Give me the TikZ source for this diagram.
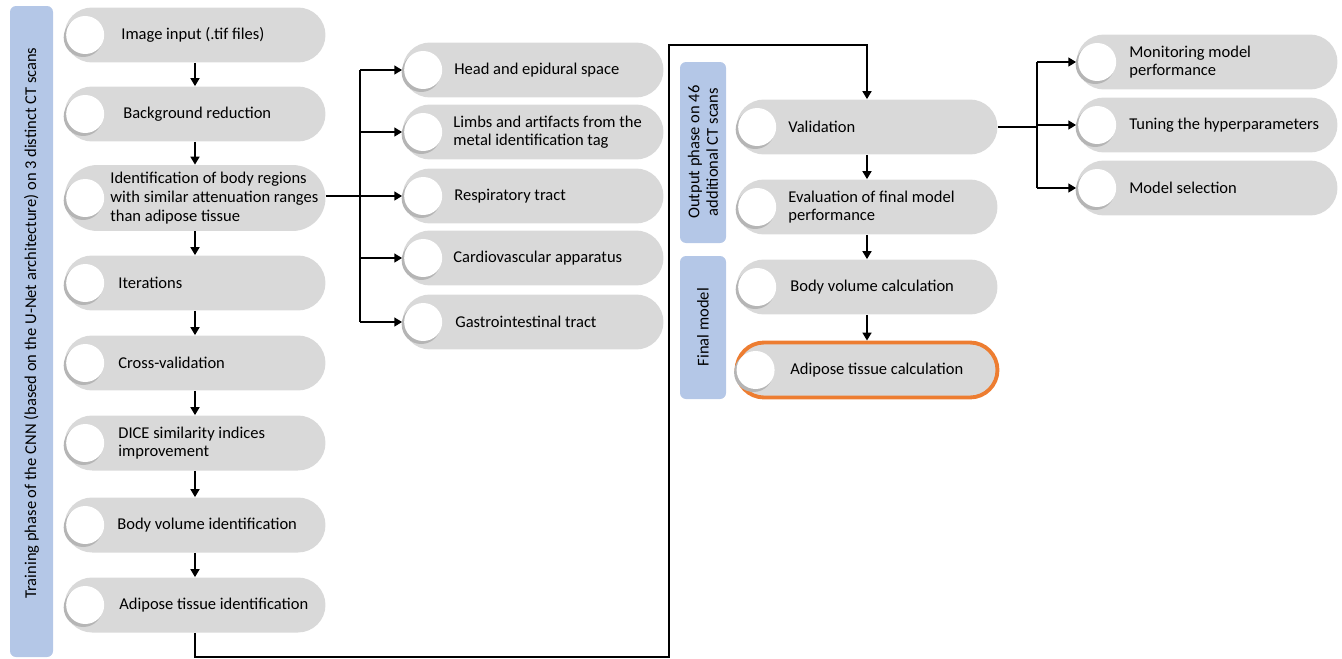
\documentclass[tikz,border=0pt]{standalone}
\usepackage{fontspec}
\setmainfont{Carlito}
\usetikzlibrary{shapes.misc,arrows.meta}
\definecolor{CTGray}{HTML}{D9D9D9}
\definecolor{CTShade}{HTML}{B5B5B5}
\definecolor{CTBlue}{HTML}{B4C7E7}
\definecolor{CTOrange}{HTML}{ED7D31}

\begin{document}
\begin{tikzpicture}[x=0.02cm,y=-0.02cm,
  pill/.style={rounded rectangle,fill=CTGray,minimum width=5.22cm,minimum height=1.1cm,inner sep=0pt},
  tall/.style={minimum height=1.32cm},
  txt/.style={anchor=west,align=left,inner sep=0pt,font=\fontsize{9.4}{10.6}\selectfont},
  bar/.style={fill=CTBlue,rounded corners=0.12cm},
  bartxt/.style={rotate=90,align=center,font=\fontsize{9.4}{10.6}\selectfont},
  arr/.style={line width=1.4pt,-{Triangle[length=4.5pt,width=5pt]}},
  ln/.style={line width=1.4pt}]
\path[use as bounding box] (0,0) rectangle (1342,659);
% phase bars
\fill[bar] (10,6) rectangle (53,657);
\node[bartxt] (trainlbl) at (31.5,323) {Training phase of the CNN (based on the U-Net architecture) on 3 distinct CT scans};
\fill[bar] (680,62) rectangle (726,243);
\node[bartxt] (outlbl) at (703,152) {Output phase on 46\\additional CT scans};
\fill[bar] (680,256) rectangle (726,399);
\node[bartxt] (finlbl) at (703,327) {Final model};
% training column
\node[pill] (imgin) at (195,35) {};
\node[txt] (imgin-t) at (121,35) {Image input (.tif files)};
\node[pill] (bgred) at (195,114) {};
\node[txt] (bgred-t) at (123,114) {Background reduction};
\node[pill,tall] (bodyreg) at (195,198) {};
\node[txt] (bodyreg-t) at (110,198) {Identification of body regions\\with similar attenuation ranges\\than adipose tissue};
\node[pill] (iter) at (195,283) {};
\node[txt] (iter-t) at (118,283) {Iterations};
\node[pill] (xval) at (195,363) {};
\node[txt] (xval-t) at (118,363) {Cross-validation};
\node[pill] (dice) at (195,443) {};
\node[txt] (dice-t) at (118,443) {DICE similarity indices\\improvement};
\node[pill] (bvolid) at (195,525) {};
\node[txt] (bvolid-t) at (117,525) {Body volume identification};
\node[pill] (adipid) at (195,605) {};
\node[txt] (adipid-t) at (119,605) {Adipose tissue identification};
% excluded regions
\node[pill] (head) at (533,70) {};
\node[txt] (head-t) at (454,70) {Head and epidural space};
\node[pill] (limbs) at (533,132) {};
\node[txt] (limbs-t) at (453,132) {Limbs and artifacts from the\\metal identification tag};
\node[pill] (resp) at (533,196) {};
\node[txt] (resp-t) at (454,196) {Respiratory tract};
\node[pill] (cardio) at (533,258) {};
\node[txt] (cardio-t) at (453,258) {Cardiovascular apparatus};
\node[pill] (gastro) at (533,322) {};
\node[txt] (gastro-t) at (455,322) {Gastrointestinal tract};
% output and final model
\node[pill] (valid) at (867,127) {};
\node[txt] (valid-t) at (788,127) {Validation};
\node[pill] (evalm) at (867,207) {};
\node[txt] (evalm-t) at (788,207) {Evaluation of final model\\performance};
\node[pill] (bvolcalc) at (867,287) {};
\node[txt] (bvolcalc-t) at (790,287) {Body volume calculation};
\node[pill,draw=CTOrange,line width=2.2pt] (adipcalc) at (867,370) {};
\node[txt] (adipcalc-t) at (790,370) {Adipose tissue calculation};
% validation tasks
\node[pill] (monit) at (1207,62) {};
\node[txt] (monit-t) at (1129,62) {Monitoring model\\performance};
\node[pill] (tuning) at (1207,125) {};
\node[txt] (tuning-t) at (1129,125) {Tuning the hyperparameters};
\node[pill] (modsel) at (1207,188) {};
\node[txt] (modsel-t) at (1129,188) {Model selection};
% white discs
\foreach \n in {imgin,bgred,bodyreg,iter,xval,dice,bvolid,adipid,head,limbs,resp,cardio,gastro,valid,evalm,bvolcalc,adipcalc,monit,tuning,modsel}{
  \fill[CTShade] (\n.west) ++(19,2.5) circle (0.39cm);
  \fill[white] (\n.west) ++(21,0) circle (0.38cm);
}
% connectors
\draw[arr] (imgin) -- (bgred);
\draw[arr] (bgred) -- (bodyreg);
\draw[arr] (bodyreg) -- (iter);
\draw[arr] (iter) -- (xval);
\draw[arr] (xval) -- (dice);
\draw[arr] (dice) -- (bvolid);
\draw[arr] (bvolid) -- (adipid);
\coordinate (split) at (360,196);
\draw[ln] (bodyreg.east |- split) -- (split);
\draw[ln] (split |- head.west) -- (split |- gastro.west);
\draw[arr] (split |- head.west) -- (head.west);
\draw[arr] (split |- limbs.west) -- (limbs.west);
\draw[arr] (split) -- (resp.west);
\draw[arr] (split |- cardio.west) -- (cardio.west);
\draw[arr] (split |- gastro.west) -- (gastro.west);
\coordinate (loopbl) at (669,657);
\coordinate (looptr) at (669,45);
\draw[arr] (adipid.south) |- (loopbl) -- (looptr) -| (valid.north);
\draw[arr] (valid) -- (evalm);
\draw[arr] (evalm) -- (bvolcalc);
\draw[arr] (bvolcalc) -- (adipcalc);
\coordinate (fork) at (1037,127);
\draw[ln] (valid.east) -- (fork);
\draw[ln] (fork |- monit.west) -- (fork |- modsel.west);
\draw[arr] (fork |- monit.west) -- (monit.west);
\draw[arr] (fork |- tuning.west) -- (tuning.west);
\draw[arr] (fork |- modsel.west) -- (modsel.west);
\end{tikzpicture}
\end{document}
